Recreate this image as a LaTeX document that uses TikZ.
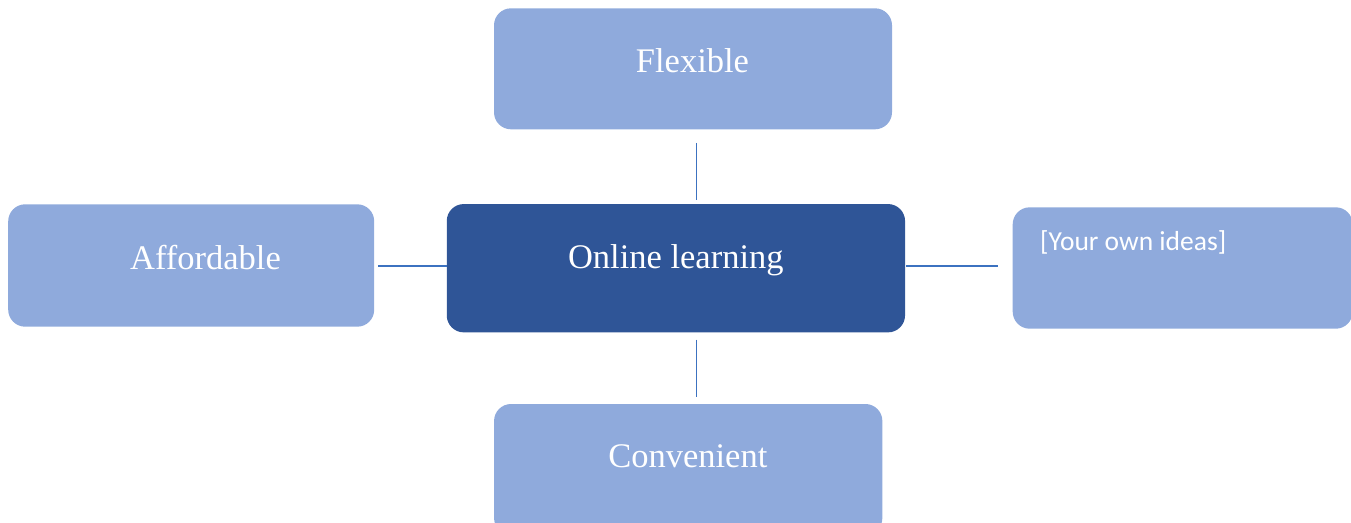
\documentclass[tikz,border=0pt]{standalone}
\usepackage{fontspec}
\setmainfont{Liberation Serif}
\newfontfamily\calfont{Carlito}
\definecolor{boxlight}{HTML}{8FAADC}
\definecolor{boxdark}{HTML}{2F5597}
\definecolor{linkblue}{HTML}{3C72C0}
\begin{document}
\begin{tikzpicture}[x=1pt,y=-1pt,
  lightbox/.style={rectangle, rounded corners=17pt, fill=boxlight, draw=none, inner sep=0pt},
  darkbox/.style={rectangle, rounded corners=17pt, fill=boxdark, draw=none, inner sep=0pt},
  boxtext/.style={text=white, inner sep=0pt, font=\fontsize{34.5}{40}\selectfont},
  ideatext/.style={text=white, inner sep=0pt, font=\calfont\fontsize{27.5}{32}\selectfont},
  conn/.style={draw=linkblue, line width=1.8pt}]
\useasboundingbox (0,0) rectangle (1351,522);
% boxes
\node[lightbox, minimum width=398pt, minimum height=121pt] (flex) at (693,68.8) {};
\node[lightbox, minimum width=366pt, minimum height=122.4pt] (aff) at (191.2,265.5) {};
\node[darkbox, minimum width=458.3pt, minimum height=128.3pt] (ctr) at (675.9,268.2) {};
\node[lightbox, minimum width=340pt, minimum height=121.4pt] (own) at (1182.7,268) {};
\node[lightbox, minimum width=388.3pt, minimum height=131pt] (conv) at (688.2,469.5) {};
% texts
\node[boxtext, anchor=base] (tflex) at (692.5,72.7) {Flexible};
\node[boxtext, anchor=base] (taff) at (205.5,269) {Affordable};
\node[boxtext, anchor=base] (tctr) at (675.8,268.3) {Online learning};
\node[boxtext, anchor=base] (tconv) at (687.8,467.3) {Convenient};
\node[ideatext, anchor=base west] (town) at (1040,250) {[Your own ideas]};
% connectors
\coordinate (vx) at (696.5,0);
\coordinate (hy) at (0,266);
\draw[conn, shorten <=13.4pt, shorten >=4pt] (flex.south -| vx) -- (ctr.north -| vx);
\draw[conn, shorten <=7pt, shorten >=7.3pt] (ctr.south -| vx) -- (conv.north -| vx);
\draw[conn, shorten <=4pt] (aff.east |- hy) -- (ctr.west |- hy);
\draw[conn, shorten <=1pt, shorten >=15pt] (ctr.east |- hy) -- (own.west |- hy);
\end{tikzpicture}
\end{document}
